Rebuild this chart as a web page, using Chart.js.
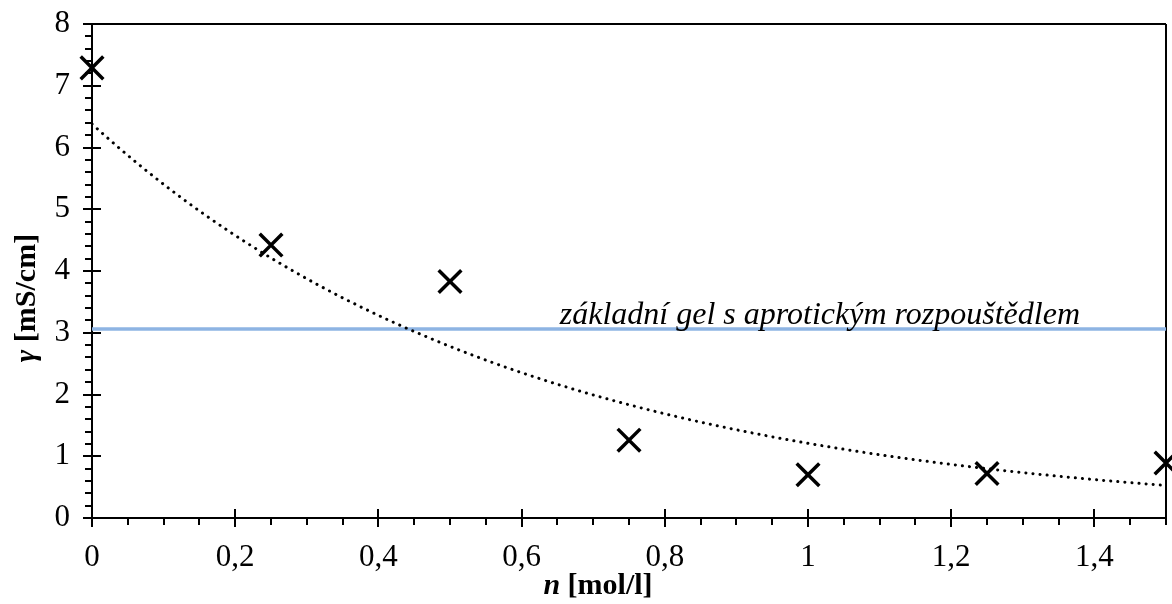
<!DOCTYPE html>
<html>
<head>
<meta charset="utf-8">
<script src="https://cdn.jsdelivr.net/npm/chart.js@4.4.0/dist/chart.umd.min.js"></script>
<style>
  html, body { margin: 0; padding: 0; background: #fff; overflow: hidden; }
  #wrap { width: 1172px; height: 604px; position: relative; }
  #graf { display: block; }
</style>
</head>
<body>
<div id="wrap"><canvas id="graf"></canvas></div>
<script>
// naměřené body: koncentrace soli n [mol/l] a vodivost γ [mS/cm]
const koncentrace = [0, 0.25, 0.5, 0.75, 1.0, 1.25, 1.5];
const vodivost = [7.29, 4.42, 3.83, 1.26, 0.70, 0.72, 0.89];

// vodivost základního gelu s aprotickým rozpouštědlem (vodorovná čára)
const zakladniGel = 3.06;
const zakladniGelPopis = 'základní gel s aprotickým rozpouštědlem';

// osy
const osaX = { min: 0, max: 1.5, krok: 0.2, vedlejsi: 0.05 };
const osaY = { min: 0, max: 8, krok: 1, vedlejsi: 0.2 };

const pismo = '"Liberation Serif", "Times New Roman", serif';

// exponenciální spojnice trendu (regrese ln y = ln a + b x), jako v Excelu
function exponencialniTrend(xs, ys) {
  const n = xs.length;
  const ly = ys.map(v => Math.log(v));
  const mx = xs.reduce((s, v) => s + v, 0) / n;
  const my = ly.reduce((s, v) => s + v, 0) / n;
  let sxy = 0, sxx = 0;
  for (let i = 0; i < n; i++) {
    sxy += (xs[i] - mx) * (ly[i] - my);
    sxx += (xs[i] - mx) * (xs[i] - mx);
  }
  const b = sxy / sxx;
  const a = Math.exp(my - b * mx);
  const body = [];
  for (let i = 0; i <= 150; i++) {
    const x = osaX.min + (osaX.max - osaX.min) * i / 150;
    body.push({ x: x, y: a * Math.exp(b * x) });
  }
  return body;
}

const trend = exponencialniTrend(koncentrace, vodivost);
const mereni = koncentrace.map((x, i) => ({ x: x, y: vodivost[i] }));

function jeNasobek(v, krok) {
  return Math.abs(v / krok - Math.round(v / krok)) < 1e-6;
}

// osy, rámeček a značky os kreslíme sami (hlavní značky přes osu, vedlejší ven)
const osyPlugin = {
  id: 'osy',
  beforeDatasetsDraw(chart) {
    const { ctx, chartArea: a, scales: { x, y } } = chart;
    ctx.save();
    ctx.strokeStyle = '#000';
    ctx.lineWidth = 2;
    ctx.beginPath();
    ctx.moveTo(a.left, a.top); ctx.lineTo(a.right, a.top);
    ctx.moveTo(a.right, a.top); ctx.lineTo(a.right, a.bottom);
    ctx.moveTo(a.left, a.top); ctx.lineTo(a.left, a.bottom);
    ctx.moveTo(a.left, a.bottom); ctx.lineTo(a.right, a.bottom);
    // značky na ose x
    const nx = Math.round((osaX.max - osaX.min) / osaX.vedlejsi);
    for (let i = 0; i <= nx; i++) {
      const v = osaX.min + i * osaX.vedlejsi;
      const px = Math.round(x.getPixelForValue(v));
      if (jeNasobek(v, osaX.krok)) {
        ctx.moveTo(px, a.bottom - 9); ctx.lineTo(px, a.bottom + 9);
      } else {
        ctx.moveTo(px, a.bottom); ctx.lineTo(px, a.bottom + 7);
      }
    }
    // značky na ose y
    const ny = Math.round((osaY.max - osaY.min) / osaY.vedlejsi);
    for (let i = 0; i <= ny; i++) {
      const v = osaY.min + i * osaY.vedlejsi;
      const py = Math.round(y.getPixelForValue(v));
      if (jeNasobek(v, osaY.krok)) {
        ctx.moveTo(a.left - 9, py); ctx.lineTo(a.left + 9, py);
      } else {
        ctx.moveTo(a.left - 7, py); ctx.lineTo(a.left, py);
      }
    }
    ctx.stroke();
    ctx.restore();
  },
  afterDatasetsDraw(chart) {
    const { ctx, scales: { x, y } } = chart;
    ctx.save();
    ctx.font = 'italic 32px ' + pismo;
    ctx.fillStyle = '#000';
    ctx.textAlign = 'right';
    ctx.textBaseline = 'alphabetic';
    ctx.fillText(zakladniGelPopis, x.getPixelForValue(osaX.max) - 86, y.getPixelForValue(zakladniGel) - 5);
    ctx.restore();
  }
};

// popisky os: veličina kurzívou, jednotka tučně
const popiskyOs = {
  id: 'popiskyOs',
  afterDraw(chart) {
    const { ctx } = chart;
    const vypis = (vel, jed, cx, cy) => {
      ctx.font = 'bold italic 30px ' + pismo;
      const w1 = ctx.measureText(vel).width;
      ctx.font = 'bold 30px ' + pismo;
      const w2 = ctx.measureText(jed).width;
      const sx = cx - (w1 + w2) / 2;
      ctx.font = 'bold italic 30px ' + pismo;
      ctx.fillText(vel, sx, cy);
      ctx.font = 'bold 30px ' + pismo;
      ctx.fillText(jed, sx + w1, cy);
    };
    ctx.save();
    ctx.fillStyle = '#000';
    ctx.textBaseline = 'alphabetic';
    vypis('n', ' [mol/l]', 598, 594);
    ctx.translate(35, 298);
    ctx.rotate(-Math.PI / 2);
    vypis('γ', ' [mS/cm]', 0, 0);
    ctx.restore();
  }
};

new Chart(document.getElementById('graf'), {
  type: 'scatter',
  data: {
    datasets: [
      {
        label: 'měření',
        data: mereni,
        showLine: false,
        pointStyle: 'crossRot',
        pointRadius: 16,
        pointBorderWidth: 3.5,
        borderColor: '#000',
        backgroundColor: '#000',
        clip: false,
        order: 1
      },
      {
        label: 'trend',
        data: trend,
        showLine: true,
        pointRadius: 0,
        borderColor: '#000',
        borderWidth: 3,
        borderDash: [0.1, 7],
        borderCapStyle: 'round',
        order: 2
      },
      {
        label: zakladniGelPopis,
        data: [{ x: osaX.min, y: zakladniGel }, { x: osaX.max, y: zakladniGel }],
        showLine: true,
        pointRadius: 0,
        borderColor: '#8eb4e3',
        borderWidth: 3.5,
        order: 3
      }
    ]
  },
  options: {
    responsive: true,
    maintainAspectRatio: false,
    animation: false,
    layout: { autoPadding: false, padding: { top: 24, right: 6, left: 0, bottom: 0 } },
    plugins: {
      legend: { display: false },
      tooltip: { enabled: false }
    },
    scales: {
      x: {
        type: 'linear',
        min: osaX.min,
        max: osaX.max,
        grid: { display: false },
        border: { display: false },
        ticks: {
          stepSize: osaX.krok,
          includeBounds: false,
          padding: 13,
          color: '#000',
          font: { family: pismo, size: 31 },
          maxRotation: 0,
          callback: v => jeNasobek(v, osaX.krok) ? String(Math.round(v * 10) / 10).replace('.', ',') : null
        },
        afterFit: s => { s.height = 86; s.paddingLeft = 0; s.paddingRight = 0; }
      },
      y: {
        min: osaY.min,
        max: osaY.max,
        grid: { display: false },
        border: { display: false },
        ticks: {
          stepSize: osaY.krok,
          padding: 14,
          color: '#000',
          font: { family: pismo, size: 31 }
        },
        afterFit: s => { s.width = 92; s.paddingTop = 0; s.paddingBottom = 0; }
      }
    }
  },
  plugins: [osyPlugin, popiskyOs]
});
</script>
</body>
</html>
